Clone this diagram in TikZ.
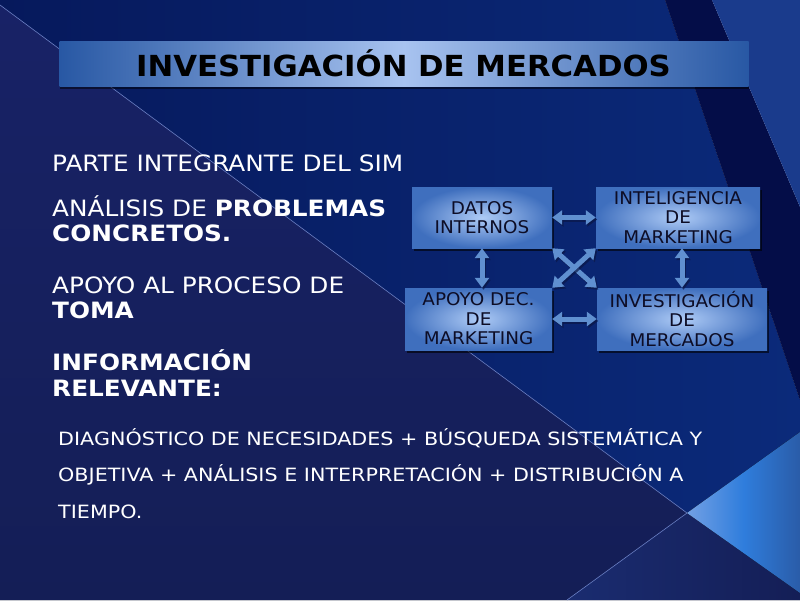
\documentclass[tikz,border=0pt]{standalone}
\usepackage{fontspec}
\setmainfont{DejaVu Sans}
\newfontfamily\boxfont[FakeStretch=1.05]{DejaVu Sans}
\newfontfamily\leftfont[FakeStretch=1.1]{DejaVu Sans}
\newfontfamily\lowfont[FakeStretch=1.13]{DejaVu Sans}
\newfontfamily\titlefont[FakeStretch=1.06]{DejaVu Sans}
\usetikzlibrary{arrows.meta,shadows}
\definecolor{bgA}{HTML}{06195C}
\definecolor{bgB}{HTML}{0B2A7A}
\definecolor{bgC}{HTML}{182266}
\definecolor{bgD}{HTML}{141E56}
\definecolor{bgE}{HTML}{1A2C70}
\definecolor{bandc}{HTML}{040D48}
\definecolor{rightc}{HTML}{1A3B8C}
\definecolor{triA}{HTML}{72A0E4}
\definecolor{triB}{HTML}{2F7DDC}
\definecolor{triC}{HTML}{2A5CA8}
\definecolor{linec}{HTML}{6A80C8}
\definecolor{barEdge}{HTML}{2858A4}
\definecolor{barMid}{HTML}{A8C3F0}
\definecolor{boxIn}{HTML}{AECBF6}
\definecolor{boxOut}{HTML}{3F6FBE}
\definecolor{boxText}{HTML}{0D0D26}
\definecolor{arrowc}{HTML}{6090D0}
\definecolor{arrowsh}{HTML}{0A1848}
\tikzset{
  mybox/.style={rectangle, inner sep=0pt, shading=radial, inner color=boxIn, outer color=boxOut,
    align=center, text=boxText, font=\boxfont\fontsize{17.5}{19.5}\selectfont,
    drop shadow={shadow xshift=2pt, shadow yshift=-3pt, opacity=0.6, fill=black}},
  barrow/.style={line width=5pt, draw=arrowc,
    arrows={Triangle[width=14pt,length=10pt]-Triangle[width=14pt,length=10pt]}},
  barrowsh/.style={barrow, draw=arrowsh, opacity=0.7, transform canvas={shift={(1.5pt,-2pt)}}},
  wtext/.style={anchor=base west, inner sep=0pt, text=white, font=\leftfont\fontsize{22.5}{25}\selectfont},
  stext/.style={anchor=base west, inner sep=0pt, text=white, font=\lowfont\fontsize{18.3}{22}\selectfont}
}
\newcommand\dblarrow[2]{\draw[barrowsh] (#1) -- (#2); \draw[barrow] (#1) -- (#2);}
\begin{document}
\begin{tikzpicture}[x=1pt,y=-1pt]
\useasboundingbox (0,0) rectangle (800,600);
% background
\fill[left color=bgA, right color=bgB] (0,0) -- (665,0) -- (800,400) -- (800,432) -- (687,513) -- (0,5) -- cycle;
\fill[top color=bgC, bottom color=bgD] (0,5) -- (687,513) -- (567,600) -- (0,600) -- cycle;
\fill[left color=bgE, right color=bgD] (687,513) -- (800,593) -- (800,600) -- (567,600) -- cycle;
\fill[left color=triA, right color=triC, middle color=triB] (687,513) -- (800,432) -- (800,593) -- cycle;
\fill[bandc] (665,0) -- (712,0) -- (800,207) -- (800,400) -- cycle;
\fill[rightc] (712,0) -- (800,0) -- (800,207) -- cycle;
\draw[linec, line width=0.6pt] (0,5) -- (687,513) -- (567,600);
% title bar
\node[rectangle, inner sep=0pt, minimum width=689pt, minimum height=45pt,
  left color=barEdge, right color=barEdge, middle color=barMid,
  drop shadow={shadow xshift=0pt, shadow yshift=-3pt, opacity=0.5, fill=black}] (bar) at (404,63.5) {};
\node[anchor=base, inner sep=0pt, font=\titlefont\bfseries\fontsize{29}{30}\selectfont] (title) at (403.5,76) {INVESTIGACIÓN DE MERCADOS};
% left texts
\node[wtext] (t1) at (52,171.7) {PARTE INTEGRANTE DEL SIM};
\node[wtext] (t2) at (52,216.7) {ANÁLISIS DE \textbf{PROBLEMAS}};
\node[wtext] (t3) at (52,241.7) {\textbf{CONCRETOS.}};
\node[wtext] (t4) at (52,293.3) {APOYO AL PROCESO DE};
\node[wtext] (t5) at (52,318.3) {\textbf{TOMA}};
\node[wtext] (t6) at (52,370) {\textbf{INFORMACIÓN}};
\node[wtext] (t7) at (52,396.7) {\textbf{RELEVANTE:}};
\node[stext] (s1) at (58,445) {DIAGNÓSTICO DE NECESIDADES + BÚSQUEDA SISTEMÁTICA Y};
\node[stext] (s2) at (58,481.7) {OBJETIVA + ANÁLISIS E INTERPRETACIÓN + DISTRIBUCIÓN A};
\node[stext] (s3) at (58,518) {TIEMPO.};
% boxes
\node[mybox, minimum width=140pt, minimum height=61pt] (dat) at (482,217.5) {DATOS\\INTERNOS};
\node[mybox, minimum width=164pt, minimum height=61pt] (int) at (678,217.5) {INTELIGENCIA\\DE\\MARKETING};
\node[mybox, minimum width=147pt, minimum height=62pt] (apo) at (478.5,319) {APOYO DEC.\\DE\\MARKETING};
\node[mybox, minimum width=170pt, minimum height=62pt] (inv) at (682,319) {INVESTIGACIÓN\\DE\\MERCADOS};
% arrows
\dblarrow{dat}{int}
\dblarrow{apo}{inv}
\dblarrow{dat.south}{dat.south |- apo.north}
\dblarrow{inv.north}{inv.north |- int.south}
\dblarrow{dat.south east}{inv.north west}
\dblarrow{apo.north east}{int.south west}
\end{tikzpicture}
\end{document}
